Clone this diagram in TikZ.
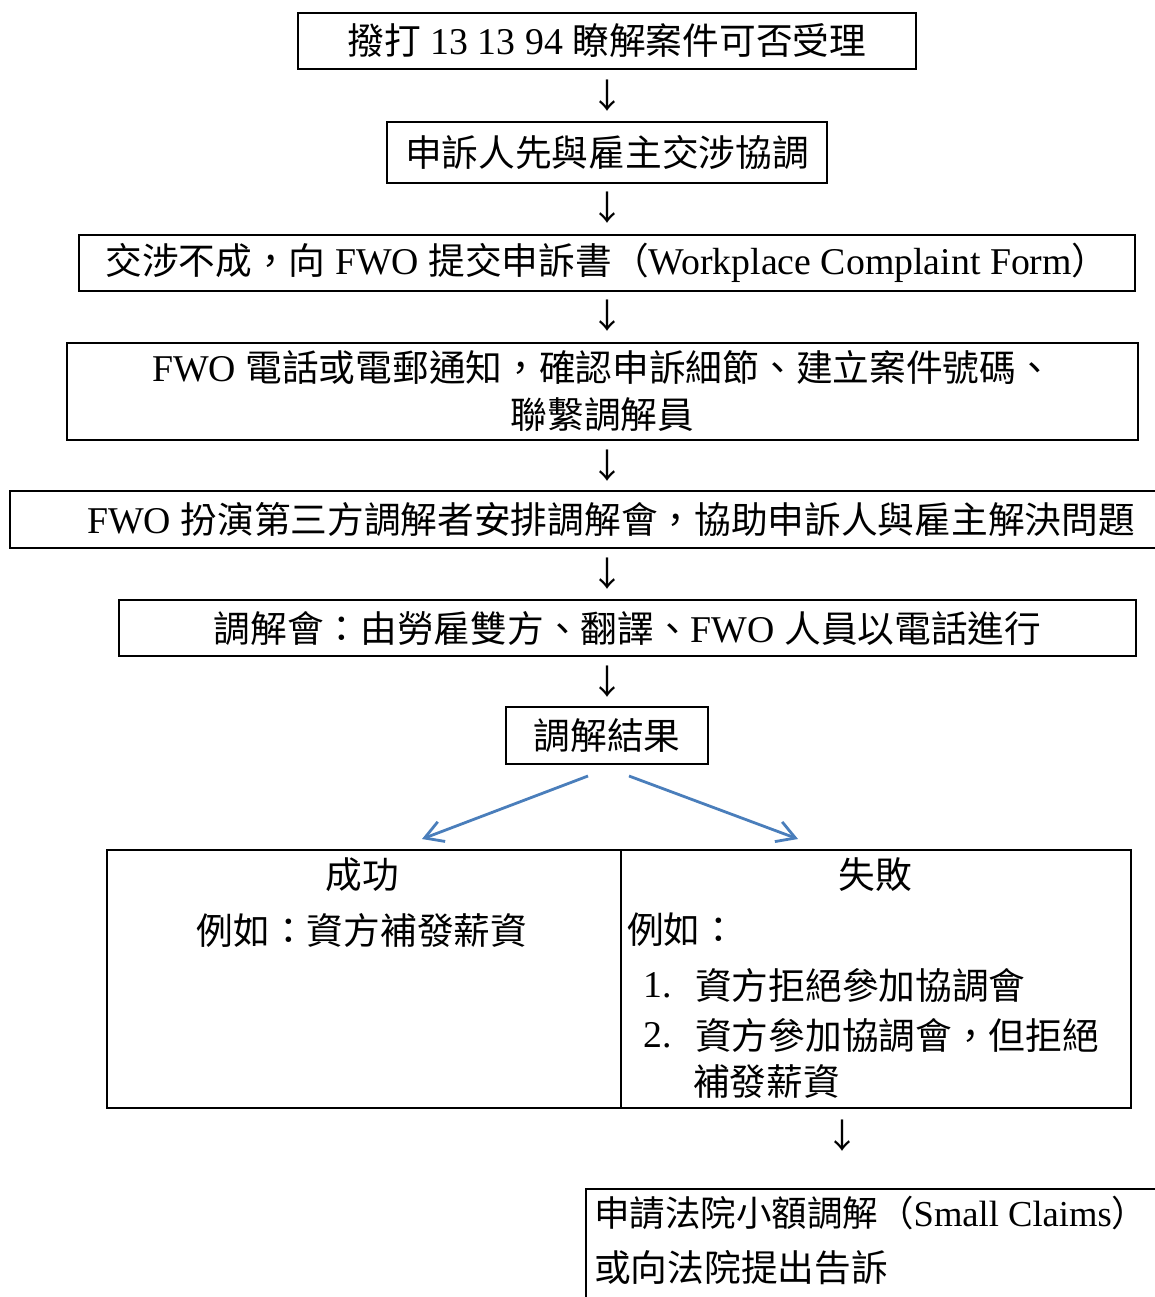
\documentclass[tikz,border=0pt]{standalone}
\usepackage{fontspec}
\setmainfont[Scale=1.03]{Liberation Serif}
\newfontfamily\cjk{Noto Sans CJK TC}
\usetikzlibrary{arrows.meta}
\newcommand\zh[1]{{\cjk #1}}
\definecolor{arrowblue}{HTML}{4A7EBB}
\begin{document}
\begin{tikzpicture}[x=1pt,y=-1pt,
  every node/.style={font=\fontsize{36.7pt}{47pt}\selectfont, inner sep=0pt},
  boxnode/.style={draw=black, line width=1.8pt, rectangle},
  downglyph/.style={font=\cjk\fontsize{34pt}{34pt}\selectfont},
  branch/.style={draw=arrowblue, line width=2.8pt, -{Straight Barb[length=18pt,width=21pt]}},
]
\useasboundingbox (0,0) rectangle (1155,1297);

% main chain
\node[boxnode, minimum width=618pt, minimum height=56pt] (b1) at (607,41)
  {\zh{撥打} 13 13 94 \zh{瞭解案件可否受理}};
\node[downglyph] (d1) at (607,96) {↓};
\node[boxnode, minimum width=440pt, minimum height=61pt] (b2) at (607,152.5)
  {\zh{申訴人先與雇主交涉協調}};
\node[downglyph] (d2) at (607,208) {↓};
\node[boxnode, minimum width=1056pt, minimum height=56pt] (b3) at (607,263)
  {\zh{交涉不成，向} FWO \zh{提交申訴書（}Workplace Complaint Form\zh{）}};
\node[downglyph] (d3) at (607,316) {↓};
\node[boxnode, minimum width=1071pt, minimum height=97pt, align=center] (b4) at (602.5,391.5)
  {FWO \zh{電話或電郵通知，確認申訴細節、建立案件號碼、}\\\zh{聯繫調解員}};
\node[downglyph] (d4) at (607,466) {↓};
\node[boxnode, minimum width=1202pt, minimum height=57pt] (b5) at (611,519.5)
  {FWO \zh{扮演第三方調解者安排調解會，協助申訴人與雇主解決問題}};
\node[downglyph] (d5) at (607,574) {↓};
\node[boxnode, minimum width=1017pt, minimum height=56pt] (b6) at (627.5,628)
  {\zh{調解會：由勞雇雙方、翻譯、}FWO \zh{人員以電話進行}};
\node[downglyph] (d6) at (607,682) {↓};
\node[boxnode, minimum width=202pt, minimum height=57pt] (b7) at (607,735.5)
  {\zh{調解結果}};

% branches
\coordinate (c1s) at (588,776);
\coordinate (c1e) at (422,839);
\coordinate (c2s) at (629,776);
\coordinate (c2e) at (798,839);
\draw[branch] (c1s) -- (c1e);
\draw[branch] (c2s) -- (c2e);

% table
\node[boxnode, anchor=north west, minimum width=514pt, minimum height=258pt] (cl) at (106,849) {};
\node[boxnode, anchor=north west, minimum width=510pt, minimum height=258pt] (cr) at (620,849) {};

\node (s1) at (362,875) {\zh{成功}};
\node (s2) at (362,930) {\zh{例如：資方補發薪資}};
\node (f1) at (875,875) {\zh{失敗}};
\node[anchor=west] (f2) at (627,930) {\zh{例如：}};
\node[anchor=west] (f3n) at (643,985) {1.};
\node[anchor=west] (f3) at (695,985) {\zh{資方拒絕參加協調會}};
\node[anchor=west] (f4n) at (643,1035) {2.};
\node[anchor=west] (f4) at (695,1035) {\zh{資方參加協調會，但拒絕}};
\node[anchor=west] (f5) at (693,1082) {\zh{補發薪資}};

\node[downglyph] (d7) at (842,1136) {↓};

% final box
\node[boxnode, anchor=north west, minimum width=600pt, minimum height=140pt] (b8) at (585,1188) {};
\node[anchor=west, font=\fontsize{35.5pt}{47pt}\selectfont] (g1) at (594,1213)
  {\zh{申請法院小額調解（}Small Claims\zh{\makebox[0.5em][l]{）}}};
\node[anchor=west] (g2) at (594,1268) {\zh{或向法院提出告訴}};
\end{tikzpicture}
\end{document}
